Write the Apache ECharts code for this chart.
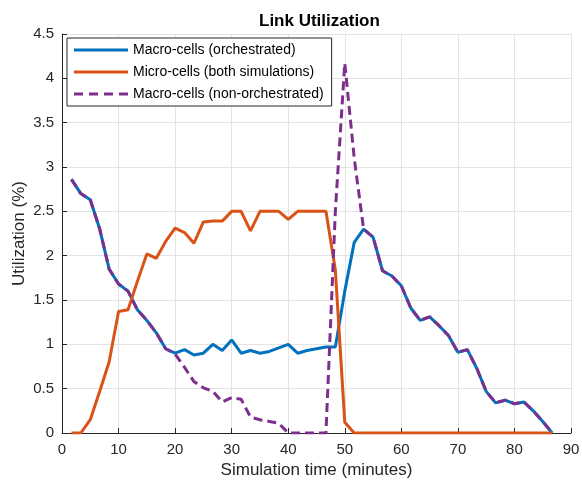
<!DOCTYPE html>
<html>
<head>
<meta charset="utf-8">
<script src="https://cdn.jsdelivr.net/npm/echarts@6/dist/echarts.min.js"></script>
<style>
html,body{margin:0;padding:0;background:#fff;}
#c{width:582px;height:481px;}
</style>
</head>
<body>
<div id="c"></div>
<script>
const times = [1.67,3.33,5,6.67,8.33,10,11.67,13.33,15,16.67,18.33,20,21.67,23.33,25,26.67,28.33,30,31.67,33.33,35,36.67,38.33,40,41.67,43.33,45,46.67,48.33,50,51.67,53.33,55,56.67,58.33,60,61.67,63.33,65,66.67,68.33,70,71.67,73.33,75,76.67,78.33,80,81.67,83.33,85,86.67];
const macroOrch = [2.86,2.70,2.63,2.30,1.85,1.68,1.60,1.39,1.27,1.13,0.95,0.90,0.94,0.88,0.90,1.00,0.93,1.05,0.90,0.93,0.90,0.92,0.96,1.00,0.90,0.93,0.95,0.97,0.97,1.60,2.15,2.30,2.21,1.83,1.77,1.66,1.41,1.27,1.31,1.21,1.10,0.91,0.94,0.73,0.47,0.34,0.37,0.33,0.35,0.25,0.13,0.00];
const micro = [0,0,0.15,0.47,0.80,1.37,1.39,1.71,2.02,1.97,2.16,2.31,2.26,2.14,2.38,2.39,2.39,2.50,2.50,2.28,2.50,2.50,2.50,2.41,2.50,2.50,2.50,2.50,1.84,0.12,0,0,0,0,0,0,0,0,0,0,0,0,0,0,0,0,0,0,0,0,0,0];
const macroNonOrch = [2.86,2.70,2.63,2.30,1.85,1.68,1.60,1.39,1.27,1.13,0.95,0.89,0.74,0.58,0.51,0.47,0.35,0.40,0.38,0.18,0.15,0.13,0.11,0,0,0,0,0,2.5,4.17,3.1,2.30,2.21,1.83,1.77,1.66,1.41,1.27,1.31,1.21,1.10,0.91,0.94,0.73,0.47,0.34,0.37,0.33,0.35,0.25,0.13,0.00];
const seriesNames = ['Macro-cells (orchestrated)','Micro-cells (both simulations)','Macro-cells (non-orchestrated)'];
const xTicks = {min:0,max:90,interval:10};
const yTicks = {min:0,max:4.5,interval:0.5};

const FONT = '"Liberation Sans", Arial, Helvetica, sans-serif';
const pair = (ys) => times.map((t,i)=>[t, ys[i]]);
const axisCol = '#262626';
const solidIcon = 'path://M0,0H54V3H0Z';
const dashIcon = 'path://M0,0H9V3H0Z M15,0H24V3H15Z M30,0H39V3H30Z M45,0H54V3H45Z';

const chart = echarts.init(document.getElementById('c'));
chart.setOption({
  animation:false,
  backgroundColor:'#fff',
  textStyle:{fontFamily:FONT},
  title:{text:'Link Utilization', left:254, top:8,
    textStyle:{fontFamily:FONT,fontSize:17,fontWeight:'bold',color:'#000'}},
  grid:{left:62,right:11,top:34,bottom:48,containLabel:false,outerBoundsMode:'none'},
  legend:{orient:'vertical', left:67, top:38, padding:[5,8,5,7], itemWidth:54, itemHeight:3, itemGap:8,
    backgroundColor:'#fff', borderColor:axisCol, borderWidth:1, borderRadius:0,
    textStyle:{fontFamily:FONT,fontSize:14,color:'#000',lineHeight:14},
    data:[
      {name:seriesNames[0], icon:solidIcon},
      {name:seriesNames[1], icon:solidIcon},
      {name:seriesNames[2], icon:dashIcon}
    ]},
  xAxis:{type:'value', min:xTicks.min, max:xTicks.max, interval:xTicks.interval,
    name:'Simulation time (minutes)', nameLocation:'middle', nameGap:29,
    nameTextStyle:{fontFamily:FONT,fontSize:17,color:'#262626'},
    axisLine:{show:true,onZero:false,lineStyle:{color:axisCol,width:1}},
    axisTick:{show:true,inside:true,length:5,lineStyle:{color:axisCol}},
    axisLabel:{fontFamily:FONT,fontSize:15,color:'#262626',margin:9},
    splitLine:{show:true,lineStyle:{color:'#e3e3e3',width:1}}},
  yAxis:{type:'value', min:yTicks.min, max:yTicks.max, interval:yTicks.interval,
    name:'Utilization (%)', nameLocation:'middle', nameGap:34, nameMoveOverlap:false,
    nameTextStyle:{fontFamily:FONT,fontSize:17,color:'#262626'},
    axisLine:{show:true,onZero:false,lineStyle:{color:axisCol,width:1}},
    axisTick:{show:true,inside:true,length:5,lineStyle:{color:axisCol}},
    axisLabel:{fontFamily:FONT,fontSize:15,color:'#262626',margin:8},
    splitLine:{show:true,lineStyle:{color:'#e3e3e3',width:1}}},
  series:[
    {name:seriesNames[0], type:'line', data:pair(macroOrch), symbol:'none', showSymbol:false,
      lineStyle:{color:'#0072BD',width:3}, itemStyle:{color:'#0072BD'}, z:2},
    {name:seriesNames[1], type:'line', data:pair(micro), symbol:'none', showSymbol:false,
      lineStyle:{color:'#D95319',width:3}, itemStyle:{color:'#D95319'}, z:3},
    {name:seriesNames[2], type:'line', data:pair(macroNonOrch), symbol:'none', showSymbol:false,
      lineStyle:{color:'#7E2F8E',width:3,type:[9,5]}, itemStyle:{color:'#7E2F8E'}, z:4}
  ]
});
</script>
</body>
</html>
